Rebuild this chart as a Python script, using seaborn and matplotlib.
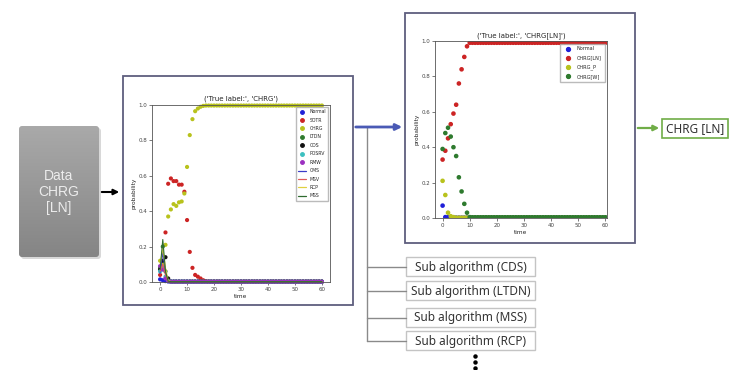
import numpy as np
import pandas as pd
import matplotlib
matplotlib.use("Agg")
import matplotlib.pyplot as plt
import seaborn as sns
from matplotlib.patches import Rectangle, FancyBboxPatch
from matplotlib.lines import Line2D
from matplotlib.colors import LinearSegmentedColormap

# ---------------- data ----------------
time = list(range(61))

# left chart (true label CHRG): scatter series
left_normal = [0.015, 0.010, 0.005, 0.003] + [0.002] * 57
left_sotr = [0.04, 0.09, 0.28, 0.555, 0.585, 0.57, 0.57, 0.55, 0.55, 0.51, 0.35,
             0.17, 0.08, 0.04, 0.03, 0.02, 0.01, 0.005] + [0.002] * 43
left_chrg = [0.12, 0.10, 0.21, 0.37, 0.41, 0.44, 0.43, 0.45, 0.455, 0.50, 0.65,
             0.83, 0.92, 0.965, 0.98, 0.99, 0.995, 0.997] + [0.997] * 43
left_ltdn = [0.08, 0.20, 0.06, 0.01] + [0.002] * 57
left_cds = [0.07, 0.12, 0.14, 0.02] + [0.002] * 57
left_posrv = [0.06, 0.08, 0.03, 0.005] + [0.002] * 57
left_rmw = [0.09, 0.07, 0.02, 0.005] + [0.002] * 57
# left chart: line series
left_cms = [0.05, 0.17, 0.05, 0.005] + [0.002] * 57
left_msv = [0.06, 0.10, 0.04, 0.005] + [0.002] * 57
left_rcp = [0.10, 0.19, 0.08, 0.010] + [0.002] * 57
left_mss = [0.07, 0.24, 0.06, 0.005] + [0.002] * 57

left_scatter_names = ["Normal", "SOTR", "CHRG", "LTDN", "CDS", "POSRV", "RMW"]
left_line_names = ["CMS", "MSV", "RCP", "MSS"]

# right chart (true label CHRG[LN])
right_normal = [0.07, 0.005, 0.004] + [0.002] * 58
right_chrg_ln = [0.33, 0.38, 0.45, 0.53, 0.59, 0.64, 0.76, 0.84, 0.91, 0.97, 0.99] + [0.99] * 50
right_chrg_p = [0.21, 0.13, 0.03, 0.01, 0.005] + [0.002] * 56
right_chrg_w = [0.39, 0.48, 0.51, 0.46, 0.40, 0.35, 0.23, 0.15, 0.08, 0.03, 0.005] + [0.004] * 50
right_names = ["Normal", "CHRG[LN]", "CHRG_P", "CHRG[W]"]

sub_algorithms = ["Sub algorithm (CDS)", "Sub algorithm (LTDN)",
                  "Sub algorithm (MSS)", "Sub algorithm (RCP)"]

# ---------------- style ----------------
sns.set_style("ticks")
plt.rcParams["font.family"] = ["DejaVu Sans"]

left_scatter_colors = ["#1f1fd8", "#cc2424", "#b8c21c", "#2e7a2e", "#111111", "#3cc0c0", "#9b2fc0"]
left_line_colors = ["#3c3cc8", "#e05a5a", "#e0d040", "#2f6b2f"]
right_colors = ["#1f1fd8", "#cc2424", "#b8c21c", "#2e7a2e"]

fig = plt.figure(figsize=(7.41, 3.70), dpi=100)
bg = fig.add_axes([0, 0, 1, 1], zorder=0)
bg.axis("off")

# data box with gradient
box = FancyBboxPatch((19, 126), 80, 131, boxstyle="round,pad=0,rounding_size=3",
                     facecolor="none", edgecolor="none", transform=bg.transData)
shadow = FancyBboxPatch((21, 128), 80, 131, boxstyle="round,pad=0,rounding_size=3",
                        facecolor="#d8d8d8", edgecolor="none")
bg.add_patch(shadow)
bg.add_patch(box)
grad = np.linspace(0, 1, 100).reshape(-1, 1)
cmap = LinearSegmentedColormap.from_list("g", ["#a9a9a9", "#858585"])
im = bg.imshow(grad, cmap=cmap, extent=(19, 99, 257, 126), aspect="auto", zorder=1)
im.set_clip_path(box)
bg.text(59, 192, "Data\nCHRG\n[LN]", ha="center", va="center", fontsize=10,
        color="#ececec", linespacing=1.15, family=["Liberation Sans", "DejaVu Sans"], zorder=2)
bg.annotate("", xy=(122, 192), xytext=(99, 192),
            arrowprops=dict(arrowstyle="-|>", color="black", lw=1.5, mutation_scale=8))

# panels
bg.add_patch(Rectangle((123, 76), 230, 229, facecolor="white", edgecolor="#5e5e7e", lw=1.3))
bg.add_patch(Rectangle((405, 13), 230, 230, facecolor="white", edgecolor="#5e5e7e", lw=1.3))

# blue arrow
bg.annotate("", xy=(405, 127), xytext=(353, 127),
            arrowprops=dict(arrowstyle="-|>", color="#4a5ab5", lw=2, mutation_scale=9))

# tree to sub algorithms
box_tops = [257, 281, 308, 331]
bg.plot([367, 367], [127, 341], color="#8a8a8a", lw=1)
for top, label in zip(box_tops, sub_algorithms):
    yc = top + 9.5
    bg.plot([367, 406], [yc, yc], color="#8a8a8a", lw=1)
    bg.add_patch(Rectangle((406, top), 129, 19, facecolor="white", edgecolor="#c4c4c4", lw=1))
    bg.text(470.5, yc + 0.5, label, ha="center", va="center", fontsize=8.5,
            color="#333333", family=["Noto Sans", "DejaVu Sans"])
bg.plot([475, 475, 475], [356, 362, 368], "o", color="black", ms=2.2)

# green arrow and result box
bg.annotate("", xy=(662, 128), xytext=(635, 128),
            arrowprops=dict(arrowstyle="-|>", color="#70ad47", lw=1.6, mutation_scale=8))
bg.add_patch(Rectangle((662, 118.5), 66, 19, facecolor="white", edgecolor="#70ad47", lw=1.2))
bg.text(695, 128.5, "CHRG [LN]", ha="center", va="center", fontsize=8.5,
        color="#333333", family=["Noto Sans", "DejaVu Sans"])

bg.set_xlim(0, 741)
bg.set_ylim(370, 0)


def style_axes(ax, title):
    ax.set_ylim(0, 1)
    ax.set_xticks([0, 10, 20, 30, 40, 50, 60])
    ax.set_yticks([0.0, 0.2, 0.4, 0.6, 0.8, 1.0])
    ax.tick_params(labelsize=4, length=2, width=0.5, pad=1.5, colors="#444444")
    for s in ax.spines.values():
        s.set_linewidth(0.6)
        s.set_color("#555555")
        s.set_visible(True)
    ax.set_xlabel("time", fontsize=4.2, labelpad=1.5)
    ax.set_ylabel("probability", fontsize=4.2, labelpad=1.5)
    ax.set_title(title, fontsize=5, pad=3)


# ---------------- left chart ----------------
axL = fig.add_axes([152 / 741, 1 - 282 / 370, 178 / 741, 177 / 370], zorder=2)
left_scatter_vals = [left_normal, left_sotr, left_chrg, left_ltdn, left_cds, left_posrv, left_rmw]
dfL = pd.concat([pd.DataFrame({"time": time, "probability": v, "label": n})
                 for n, v in zip(left_scatter_names, left_scatter_vals)])
sns.scatterplot(data=dfL, x="time", y="probability", hue="label",
                hue_order=left_scatter_names, palette=left_scatter_colors,
                s=9, linewidth=0, legend=False, ax=axL, clip_on=False)
left_line_vals = [left_cms, left_msv, left_rcp, left_mss]
dfLL = pd.concat([pd.DataFrame({"time": time, "probability": v, "label": n})
                  for n, v in zip(left_line_names, left_line_vals)])
sns.lineplot(data=dfLL, x="time", y="probability", hue="label",
             hue_order=left_line_names, palette=left_line_colors,
             lw=0.8, legend=False, ax=axL)
axL.set_xlim(-3, 63)
style_axes(axL, "('True label:', 'CHRG')")
handles = [Line2D([], [], marker="o", ls="", color=c, ms=2.5) for c in left_scatter_colors] + \
          [Line2D([], [], color=c, lw=0.9) for c in left_line_colors]
axL.legend(handles, left_scatter_names + left_line_names, loc="upper right", fontsize=3.3,
           frameon=True, borderpad=0.5, labelspacing=0.75, handlelength=1.6,
           handletextpad=0.8, borderaxespad=0.4, fancybox=False, edgecolor="#aaaaaa")

# ---------------- right chart ----------------
axR = fig.add_axes([435 / 741, 1 - 218 / 370, 172 / 741, 177 / 370], zorder=2)
right_vals = [right_normal, right_chrg_ln, right_chrg_p, right_chrg_w]
dfR = pd.concat([pd.DataFrame({"time": time, "probability": v, "label": n})
                 for n, v in zip(right_names, right_vals)])
sns.scatterplot(data=dfR, x="time", y="probability", hue="label",
                hue_order=right_names, palette=right_colors,
                s=11, linewidth=0, legend=False, ax=axR)
axR.set_xlim(-2.8, 60.6)
style_axes(axR, "('True label:', 'CHRG[LN]')")
handlesR = [Line2D([], [], marker="o", ls="", color=c, ms=2.8) for c in right_colors]
axR.legend(handlesR, right_names, loc="upper right", fontsize=3.6, frameon=True,
           borderpad=0.6, labelspacing=0.8, handletextpad=0.8, borderaxespad=0.5,
           fancybox=False, edgecolor="#aaaaaa")

fig.savefig("out.png", dpi=100)
